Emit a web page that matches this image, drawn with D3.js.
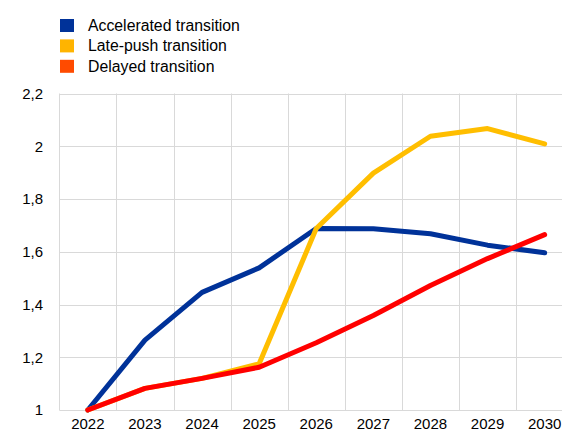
<!DOCTYPE html>
<html>
<head>
<meta charset="utf-8">
<script src="https://cdn.jsdelivr.net/npm/d3@7"></script>
<style>
  body { margin: 0; background: #fff; }
  svg { display: block; font-family: "Liberation Sans", Arial, sans-serif; }
  .grid line { stroke: #d9d9d9; stroke-width: 1; }
  .line { fill: none; stroke-width: 5; stroke-linejoin: round; stroke-linecap: round; }
</style>
</head>
<body>
<svg id="chart" width="562" height="437"></svg>
<script>
/*Data*/
var years = ['2022', '2023', '2024', '2025', '2026', '2027', '2028', '2029', '2030'];
var accelerated = [1.0, 1.265, 1.446, 1.539, 1.688, 1.687, 1.668, 1.625, 1.596];
var latePush = [1.0, 1.082, 1.12, 1.175, 1.688, 1.898, 2.038, 2.067, 2.009];
var delayed = [1.0, 1.082, 1.12, 1.162, 1.255, 1.358, 1.472, 1.574, 1.665];
var yTicks = [1, 1.2, 1.4, 1.6, 1.8, 2, 2.2];

var series = [
  {name: 'Accelerated transition', values: accelerated, line: '#003299', key: '#003299'},
  {name: 'Late-push transition', values: latePush, line: '#ffbe00', key: '#ffb400'},
  {name: 'Delayed transition', values: delayed, line: '#ff0000', key: '#ff4b00'}
];

var svg = d3.select('#chart'),
    width = +svg.attr('width');

var x = d3.scaleBand().domain(years).range([59.3, 59.3 + 9 * 57.1]),
    y = d3.scaleLinear().domain([1, 2.2]).range([410, 93.5]);

/*Grid*/
var grid = svg.append('g').attr('class', 'grid');

grid.selectAll('.h')
  .data(yTicks)
  .enter().append('line')
    .attr('x1', x.range()[0])
    .attr('x2', width)
    .attr('y1', function(d) { return Math.round(y(d)) + 0.5; })
    .attr('y2', function(d) { return Math.round(y(d)) + 0.5; });

grid.selectAll('.v')
  .data(years)
  .enter().append('line')
    .attr('x1', function(d) { return Math.round(x(d)) + 0.5; })
    .attr('x2', function(d) { return Math.round(x(d)) + 0.5; })
    .attr('y1', y(2.2))
    .attr('y2', y(1));

/*Axes*/
svg.append('g')
    .attr('transform', 'translate(43,0)')
    .call(d3.axisLeft(y).tickValues(yTicks).tickSize(0).tickPadding(0)
      .tickFormat(function(d) { return String(d).replace('.', ','); }));

svg.append('g')
    .attr('transform', 'translate(0,' + 418 + ')')
    .call(d3.axisBottom(x).tickSize(0).tickPadding(0));

svg.selectAll('.domain').remove();
svg.selectAll('.tick text')
    .attr('fill', '#000')
    .style('font-size', '15px')
    .style('font-family', '"Liberation Sans", Arial, sans-serif');

/*Lines - delayed drawn last so it sits on top*/
var line = d3.line()
    .x(function(d, i) { return x(years[i]) + x.bandwidth() / 2; })
    .y(function(d) { return y(d); });

svg.selectAll('.line')
  .data(series)
  .enter().append('path')
    .attr('class', 'line')
    .attr('stroke', function(d) { return d.line; })
    .attr('d', function(d) { return line(d.values); });

/*Legend*/
var legend = svg.selectAll('.legend')
  .data(series)
  .enter().append('g')
    .attr('transform', function(d, i) { return 'translate(60,' + (19 + i * 20.4) + ')'; });

legend.append('rect')
    .attr('width', 14)
    .attr('height', 13)
    .attr('fill', function(d) { return d.key; });

legend.append('text')
    .attr('x', 28)
    .attr('y', 12)
    .style('font-size', '15.8px')
    .attr('fill', '#000')
    .text(function(d) { return d.name; });
</script>
</body>
</html>
